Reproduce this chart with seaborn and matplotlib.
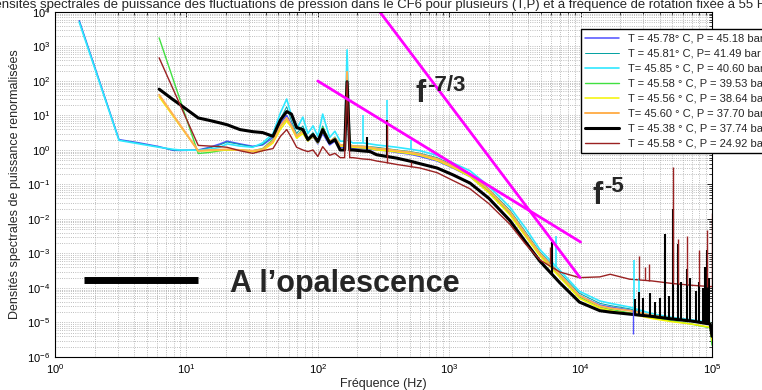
import numpy as np
import matplotlib
matplotlib.use('Agg')
import matplotlib.pyplot as plt
import seaborn as sns
from matplotlib.ticker import LogLocator, NullFormatter

sns.set_style('whitegrid')
plt.rcParams['font.family'] = ['Liberation Sans', 'DejaVu Sans']
nan = np.nan

# frequency grid (Hz)
freq = [1.53, 3.07, 4.4, 6.2, 7.9, 8.9, 12.3, 15, 18, 20.4, 25.6, 32, 38, 45.6,
        52, 58, 63, 69, 77, 84, 92, 100, 109, 123, 135, 148, 160, 167, 175, 185,
        220, 250, 280, 335, 400, 510, 600, 810, 1070, 1440, 2000, 2900, 3800, 4900,
        6970, 9800, 14000, 16800, 23600, 35000, 50000, 70000, 97000, 100000]

blue = [5600, 2.0, 1.6, 1.25, 0.98, 0.97, 1.0, 1.2, 1.5, 1.8, 1.5, 1.28, 1.4, 2.3,
        6, 10, 5.5, 2.5, 3.5, 1.8, 2.5, 1.5, 3.0, 1.4, 1.8, 1.2, 1.2, 150, 1.2, 1.1,
        1.1, 1.05, 1.0, 0.95, 0.85, 0.75, 0.65, 0.48, 0.30, 0.17, 0.06, 0.014, 3.3e-3, 9e-4,
        2.2e-4, 6e-5, 3.2e-5, 2.8e-5, 2.3e-5, 1.5e-5, 1.3e-5, 1.1e-5, 9e-6, 5e-6]
teal = [5400, 1.95, 1.55, 1.22, 1.0, 0.98, 0.99, 1.15, 1.4, 1.7, 1.45, 1.25, 1.45, 2.6,
        8, 18, 7, 3, 5, 2.2, 3.2, 1.8, 5, 1.7, 2.4, 1.4, 1.4, 300, 1.4, 1.3,
        1.3, 1.25, 1.2, 1.1, 1.0, 0.9, 0.8, 0.6, 0.36, 0.21, 0.075, 0.018, 4.3e-3, 1.1e-3,
        2.7e-4, 7e-5, 3.6e-5, 3.1e-5, 2.5e-5, 1.6e-5, 1.3e-5, 1.1e-5, 9e-6, 5e-6]
cyan = [5000, 1.9, 1.5, 1.2, 1.05, 1.0, 0.98, 1.05, 1.2, 1.5, 1.3, 1.2, 1.6, 3.0,
        12, 30, 10, 4, 9, 3, 5, 2.5, 11, 2.3, 3.5, 1.8, 1.8, 800, 1.8, 1.6,
        1.6, 1.5, 1.4, 1.3, 1.2, 1.05, 0.95, 0.70, 0.42, 0.25, 0.09, 0.022, 5.5e-3, 1.3e-3,
        3.2e-4, 8e-5, 4.2e-5, 3.6e-5, 2.8e-5, 1.8e-5, 1.4e-5, 1.2e-5, 1.0e-5, 6e-6]
green = [nan, nan, nan, 1780, nan, nan, 0.79, 0.85, 0.95, 1.0, 1.0, 0.95, 1.1, 2.0,
         5, 8, 5, 2.5, 4, 2.0, 3, 1.8, 4.5, 1.8, 2.2, 1.4, 1.4, 120, 1.4, 1.3,
         1.25, 1.2, 1.1, 1.05, 0.95, 0.85, 0.75, 0.55, 0.34, 0.19, 0.065, 0.015, 3.6e-3, 9.5e-4,
         2.3e-4, 5.5e-5, 2.8e-5, 2.4e-5, 1.9e-5, 1.4e-5, 1.1e-5, 9e-6, 7e-6, 2.2e-6]
yellow = [nan, nan, nan, 35, nan, nan, 0.94, 0.95, 0.98, 1.0, 1.0, 0.9, 0.95, 1.6,
          4, 7, 4.5, 2.2, 3, 1.8, 2.5, 1.6, 3.5, 1.6, 2.0, 1.3, 1.3, 130, 1.3, 1.2,
          1.15, 1.1, 1.0, 0.95, 0.88, 0.78, 0.7, 0.5, 0.31, 0.17, 0.058, 0.013, 3.2e-3, 8.5e-4,
          2.0e-4, 5e-5, 2.6e-5, 2.2e-5, 1.8e-5, 1.3e-5, 1.05e-5, 9e-6, 7.3e-6, 3e-6]
orange = [nan, nan, nan, 40, nan, nan, 0.94, 1.0, 1.02, 1.05, 1.0, 0.95, 1.05, 1.8,
          5, 8.5, 5, 2.5, 3.5, 2.0, 2.8, 1.8, 4, 1.8, 2.2, 1.4, 1.4, 185, 1.4, 1.3,
          1.25, 1.2, 1.1, 1.05, 0.95, 0.85, 0.75, 0.55, 0.34, 0.2, 0.07, 0.016, 3.8e-3, 1.0e-3,
          2.4e-4, 6e-5, 3e-5, 2.6e-5, 2.2e-5, 1.6e-5, 1.3e-5, 1.1e-5, 9.5e-6, 4e-6]
black = [nan, nan, nan, 58, 29, 21, 8.5, 7.2, 6.1, 5.4, 3.9, 3.4, 3.2, 2.5,
         7.5, 13, 11, 4.5, 3.9, 2.0, 2.8, 1.77, 3.9, 1.6, 2.0, 1.0, 1.0, 95, 1.0, 1.0,
         0.94, 0.9, 0.73, 0.65, 0.58, 0.47, 0.40, 0.30, 0.19, 0.11, 0.04, 0.009, 2.2e-3, 6e-4,
         1.4e-4, 3.9e-5, 2.2e-5, 2.0e-5, 1.75e-5, 1.5e-5, 1.26e-5, 1.1e-5, 9e-6, 4e-6]
brown = [nan, nan, nan, 470, nan, nan, 1.36, 1.3, 1.25, 1.2, 0.95, 0.8, 0.95, 1.1,
         2.5, 3.9, 2.3, 1.2, 1.0, 0.9, 1.0, 0.65, 1.25, 0.7, 0.8, 0.6, 0.6, 95, 0.6, 0.6,
         0.55, 0.53, 0.48, 0.43, 0.38, 0.33, 0.30, 0.22, 0.13, 0.075, 0.028, 0.007, 1.9e-3, 6.5e-4,
         2.9e-4, 2.0e-4, 2.1e-4, 2.5e-4, 1.8e-4, 1.6e-4, 1.35e-4, 1.2e-4, 1.1e-4, 1.1e-4]

# narrow spectral lines: frequency, foot, top
cyan_spk_f = [220, 335, 510, 6500, 25600, 28000]
cyan_spk_lo = [1.6, 1.3, 1.05, 4e-4, 2.6e-5, 2.5e-5]
cyan_spk_hi = [10, 28, 2.0, 3.2e-3, 6.7e-4, 2.0e-4]
black_spk_f = [235, 335, 6100, 26000, 28000, 30000, 33500, 37000, 40000, 44000, 47000,
               50500, 55000, 58000, 64000, 68000, 75000, 80000, 85000, 88000, 92000, 95000]
black_spk_lo = [0.9, 0.65, 2.5e-4, 1.7e-5, 1.7e-5, 1.6e-5, 1.6e-5, 1.5e-5, 1.4e-5, 1.4e-5, 1.3e-5,
                1.3e-5, 1.25e-5, 1.2e-5, 1.2e-5, 1.1e-5, 1.1e-5, 1e-5, 1e-5, 9.5e-6, 9e-6, 9e-6]
black_spk_hi = [2.4, 7.5, 2.1e-3, 4.7e-5, 7.7e-5, 5e-5, 7e-5, 3.9e-5, 5e-5, 3.6e-3, 6e-5,
                2e-2, 1.9e-3, 1.5e-4, 3.5e-4, 2e-4, 8e-5, 1.5e-4, 1e-4, 4e-4, 1.3e-3, 2e-4]
brown_spk_f = [335, 510, 5800, 28000, 31000, 33000, 50500, 55000, 64000, 80000, 92000, 99500]
brown_spk_lo = [0.43, 0.33, 5e-4, 1.7e-4, 1.7e-4, 1.6e-4, 1.35e-4, 1.3e-4, 1.2e-4, 1.15e-4, 1.1e-4, 1.1e-4]
brown_spk_hi = [7.5, 0.46, 1.5e-3, 8.3e-4, 4e-4, 4.8e-4, 0.33, 2.6e-3, 3.2e-3, 1.3e-3, 4.9e-3, 1.5e-2]
blue_spk_f = [25000]
blue_spk_lo = [2.3e-5]
blue_spk_hi = [4.6e-6]

labels = ['T = 45.78° C, P = 45.18 bar', 'T = 45.81° C, P= 41.49 bar',
          'T= 45.85 ° C, P = 40.60 bar', 'T = 45.58 ° C, P = 39.53 bar',
          'T = 45.56 ° C, P = 38.64 bar', 'T= 45.60 ° C, P = 37.70 bar',
          'T = 45.38 ° C, P = 37.74 bar', 'T = 45.58 ° C, P = 24.92 bar']

# reference slopes and annotation bar
ref73_f = [100, 1e4]
ref73_p = [100, 2.15e-3]
ref5_f = [297, 9900]
ref5_p = [1e4, 2.0e-4]
opal_f = [1.66, 12.2]
opal_p = [1.68e-4, 1.68e-4]

series = [blue, teal, cyan, green, yellow, orange, black, brown]
colors = ['#5050ff', '#00a0a0', '#30e8ff', '#40e040', '#f4f400', '#ffb050', 'black', '#9a2222']
widths = [1.1, 0.7, 1.2, 1.0, 1.1, 1.4, 2.2, 1.0]

fig = plt.figure(figsize=(7.62, 3.9), dpi=100)
ax = fig.add_axes([55 / 762, 1 - 357 / 390, (712 - 55) / 762, (357 - 12) / 390])
ax.set_xscale('log')
ax.set_yscale('log')

f = np.array(freq)
for vals, c, lw, lab in zip(series, colors, widths, labels):
    v = np.array(vals, dtype=float)
    m = np.isfinite(v)
    sns.lineplot(x=f[m], y=v[m], ax=ax, color=c, linewidth=lw, label=lab,
                 sort=False, estimator=None)

ax.vlines(blue_spk_f, blue_spk_lo, blue_spk_hi, color=colors[0], lw=1.0)
ax.vlines(cyan_spk_f, cyan_spk_lo, cyan_spk_hi, color=colors[2], lw=1.2)
ax.vlines(black_spk_f, black_spk_lo, black_spk_hi, color='black', lw=1.5)
ax.vlines(brown_spk_f, brown_spk_lo, brown_spk_hi, color=colors[7], lw=1.0)

ax.plot(ref73_f, ref73_p, color='#ff00ff', lw=2)
ax.plot(ref5_f, ref5_p, color='#ff00ff', lw=2)
ax.plot(opal_f, opal_p, color='black', lw=5, solid_capstyle='butt')

# slope labels: bold "f" with a raised exponent
ax.text(550, 25, 'f', fontsize=22, fontweight='bold', va='baseline')
ax.annotate('-7/3', xy=(550, 25), xytext=(9, 8), textcoords='offset points',
            fontsize=16, fontweight='bold', va='baseline')
ax.text(12400, 0.0264, 'f', fontsize=22, fontweight='bold', va='baseline')
ax.annotate('-5', xy=(12400, 0.0264), xytext=(8, 9), textcoords='offset points',
            fontsize=16, fontweight='bold', va='baseline')
ax.text(21.5, 7.6e-5, 'A l’opalescence', fontsize=22, fontweight='bold', va='baseline')

ax.set_xlim(1, 1e5)
ax.set_ylim(1e-6, 1e4)
ax.xaxis.set_major_locator(LogLocator(base=10, numticks=12))
ax.yaxis.set_major_locator(LogLocator(base=10, numticks=15))
ax.xaxis.set_minor_locator(LogLocator(base=10, subs=np.arange(2, 10), numticks=15))
ax.yaxis.set_minor_locator(LogLocator(base=10, subs=np.arange(2, 10), numticks=15))
ax.xaxis.set_minor_formatter(NullFormatter())
ax.yaxis.set_minor_formatter(NullFormatter())
ax.grid(True, which='both', ls=':', color='#a8a8a8', lw=0.6)
ax.tick_params(which='both', direction='in', top=True, right=True, labelsize=8, colors='black')
ax.tick_params(which='major', length=3.5, width=0.6)
ax.tick_params(which='minor', length=2, width=0.5)
for s in ax.spines.values():
    s.set_color('black')
    s.set_linewidth(0.8)

ax.set_xlabel('Fréquence (Hz)', fontsize=9, labelpad=2)
ax.set_ylabel('Densités spectrales de puissance renormalisées', fontsize=9, labelpad=4)

ax.legend(loc='upper left', bbox_to_anchor=(581 / 762, 1 - 29 / 390),
          bbox_transform=fig.transFigure, fontsize=8, frameon=True, fancybox=False,
          edgecolor='black', framealpha=1, handlelength=3.0, labelspacing=0.45,
          borderpad=0.4, handletextpad=0.8, borderaxespad=0)

fig.text(-15 / 762, 1 - 5 / 390,
         'Densités spectrales de puissance des fluctuations de pression dans le CF6 '
         'pour plusieurs (T,P) et à fréquence de rotation fixée à 55 Hz',
         fontsize=9.45, va='center', ha='left')

fig.savefig('out.png', dpi=100)
